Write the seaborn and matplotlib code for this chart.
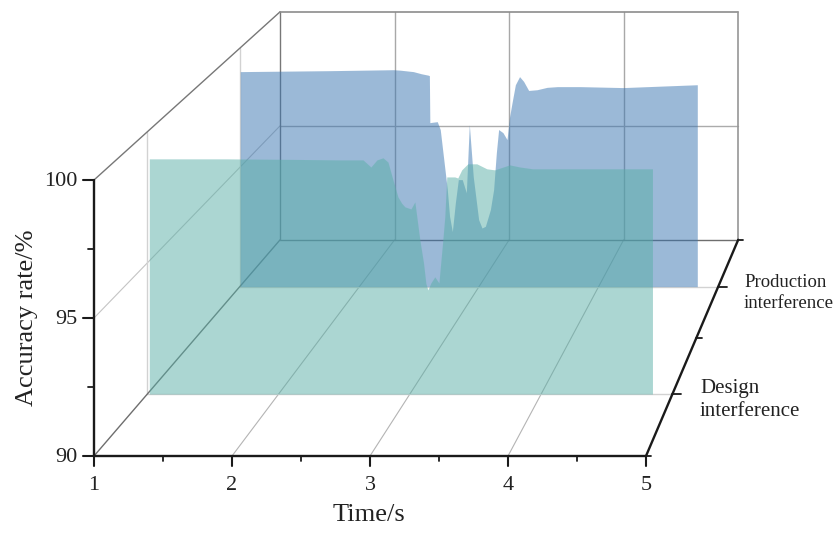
import numpy as np
import pandas as pd
import seaborn as sns
import matplotlib.pyplot as plt

# values
design_time = [1.015, 1.60, 2.10, 2.468, 2.643, 2.703, 2.749, 2.795, 2.833, 2.871, 2.909, 2.937, 2.962, 3.008, 3.038,
               3.076, 3.104, 3.122, 3.137, 3.160, 3.190, 3.221, 3.251, 3.266, 3.281, 3.342, 3.365, 3.395, 3.441,
               3.510, 3.586, 3.646, 3.760, 3.837, 3.935, 4.40, 4.848]
design_acc = [98.97, 98.97, 98.95, 98.93, 98.93, 98.66, 98.93, 99.01, 98.85, 98.17, 97.52, 97.28, 97.14, 97.06, 97.33,
              95.88, 95.00, 94.22, 93.97, 94.24, 94.47, 94.24, 95.88, 96.77, 98.28, 98.28, 98.24, 98.55, 98.78,
              98.78, 98.59, 98.55, 98.74, 98.66, 98.59, 98.59, 98.59]

prod_time = [1.004, 1.757, 2.284, 2.342, 2.451, 2.518, 2.576, 2.585, 2.589, 2.618, 2.651, 2.676, 2.735, 2.754, 2.777,
             2.802, 2.827, 2.860, 2.894, 2.919, 2.952, 2.969, 2.997, 3.025, 3.053, 3.095, 3.122, 3.145, 3.164,
             3.200, 3.234, 3.256, 3.276, 3.304, 3.339, 3.373, 3.415, 3.485, 3.569, 3.655, 3.847, 4.206, 4.825]
prod_acc = [99.02, 99.06, 99.10, 99.08, 99.02, 98.93, 98.87, 98.85, 96.88, 96.90, 96.92, 96.59, 94.07, 92.95, 92.31,
            93.51, 94.49, 94.49, 93.94, 96.80, 94.61, 93.93, 92.81, 92.46, 92.53, 93.23, 94.07, 95.62, 96.59,
            96.46, 96.17, 97.14, 97.71, 98.47, 98.81, 98.61, 98.23, 98.26, 98.36, 98.39, 98.39, 98.35, 98.47]

time_ticks = [1, 2, 3, 4, 5]
acc_ticks = [90, 95, 100]
design_depth = 0.25
prod_depth = 0.75


# perspective projection, returns pixel coordinates
def project(t, acc, depth):
    t = np.asarray(t, dtype=float)
    acc = np.asarray(acc, dtype=float)
    sx = 1 / (1 + 0.205 * depth)
    sy = 1 / (1 + 0.2105 * depth)
    x = 1188 + (94 + (t - 1) * 138 - 1188) * sx
    floor = -815 + (456 + 815) * sx
    y = floor - (acc - 90) * 27.6 * sy
    return x, y


def line3d(ax, a, b, color, lw=0.9, zorder=1):
    xa, ya = project(a[0], a[1], a[2])
    xb, yb = project(b[0], b[1], b[2])
    seg = pd.DataFrame({'x': [float(xa), float(xb)], 'y': [float(ya), float(yb)]})
    sns.lineplot(data=seg, x='x', y='y', ax=ax, color=color, lw=lw, zorder=zorder,
                 estimator=None, sort=False, legend=False)


sns.set_style('white')
plt.rcParams['font.family'] = ['Liberation Serif', 'DejaVu Serif']

fig = plt.figure(figsize=(8.39, 5.33), dpi=100)
ax = fig.add_axes([0, 0, 1, 1])

# grid on the walls and floor
for t in [2, 3, 4]:
    line3d(ax, (t, 90, 0), (t, 90, 1), '#b4b4b4', 0.8)
    line3d(ax, (t, 90, 1), (t, 100, 1), '#a8a8a8', 1.0)
line3d(ax, (1, 95, 0), (1, 95, 1), '#c4c4c4', 0.8)
line3d(ax, (1, 95, 1), (5, 95, 1), '#ababab', 1.0)
for d in [design_depth, prod_depth]:
    line3d(ax, (1, 90, d), (1, 100, d), '#d2d2d2', 1.0)
    line3d(ax, (1, 90, d), (5, 90, d), '#d2d2d2', 1.0)

# frame
line3d(ax, (1, 90, 0), (1, 90, 1), '#6e6e6e', 1.0)
line3d(ax, (1, 90, 1), (5, 90, 1), '#6e6e6e', 1.0)
line3d(ax, (1, 100, 0), (1, 100, 1), '#777777', 1.0)
line3d(ax, (1, 90, 1), (1, 100, 1), '#777777', 1.0)
line3d(ax, (1, 100, 1), (5, 100, 1), '#8c8c8c', 1.2)
line3d(ax, (5, 90, 1), (5, 100, 1), '#969696', 1.2)

# the two surfaces, production one is behind
px, py = project(prod_time, prod_acc, prod_depth)
_, py0 = project(prod_time, np.full(len(prod_time), 90.0), prod_depth)
ax.fill_between(px, py0, py, color='#3975B1', alpha=0.5, lw=0, zorder=2)

dx, dy = project(design_time, design_acc, design_depth)
_, dy0 = project(design_time, np.full(len(design_time), 90.0), design_depth)
ax.fill_between(dx, dy0, dy, color='#59AFA7', alpha=0.5, lw=0, zorder=3)

# axes lines
line3d(ax, (1, 90, 0), (5, 90, 0), '#1a1a1a', 1.7, 5)
line3d(ax, (1, 90, 0), (1, 100, 0), '#1a1a1a', 1.7, 5)
line3d(ax, (5, 90, 0), (5, 90, 1), '#1a1a1a', 1.7, 5)

# ticks
for t in time_ticks:
    x, y = project(t, 90, 0)
    ax.plot([x, x], [y, y + 10], color='#1a1a1a', lw=1.5, zorder=5)
    ax.text(x, y + 30, str(t), ha='center', va='center', fontsize=16, color='#222222')
for t in [1.5, 2.5, 3.5, 4.5]:
    x, y = project(t, 90, 0)
    ax.plot([x, x], [y, y + 5], color='#1a1a1a', lw=1.3, zorder=5)
for a in acc_ticks:
    x, y = project(1, a, 0)
    ax.plot([x - 11, x], [y, y], color='#1a1a1a', lw=1.5, zorder=5)
    ax.text(x - 17, y + 1, str(a), ha='right', va='center', fontsize=16, color='#222222')
for a in [92.5, 97.5]:
    x, y = project(1, a, 0)
    ax.plot([x - 6, x], [y, y], color='#1a1a1a', lw=1.3, zorder=5)
for d, length in [(0, 5), (0.25, 9), (0.5, 6), (0.75, 9), (1, 5)]:
    x, y = project(5, 90, d)
    ax.plot([x, x + length], [y, y], color='#1a1a1a', lw=1.3, zorder=5)

ax.text(27, 318, 'Accuracy rate/%', rotation=90, ha='center', va='center', fontsize=19, color='#222222')
ax.text(369, 515, 'Time/s', ha='center', va='center', fontsize=19, color='#222222')
ax.text(744, 293, 'Production\ninterference', ha='left', va='center', fontsize=13.5, color='#222222', linespacing=1.35)
ax.text(700, 400, 'Design\ninterference', ha='left', va='center', fontsize=15, color='#222222', linespacing=1.3)

ax.set_xlim(0, 839)
ax.set_ylim(533, 0)
ax.axis('off')

plt.savefig('out.png', dpi=100)
